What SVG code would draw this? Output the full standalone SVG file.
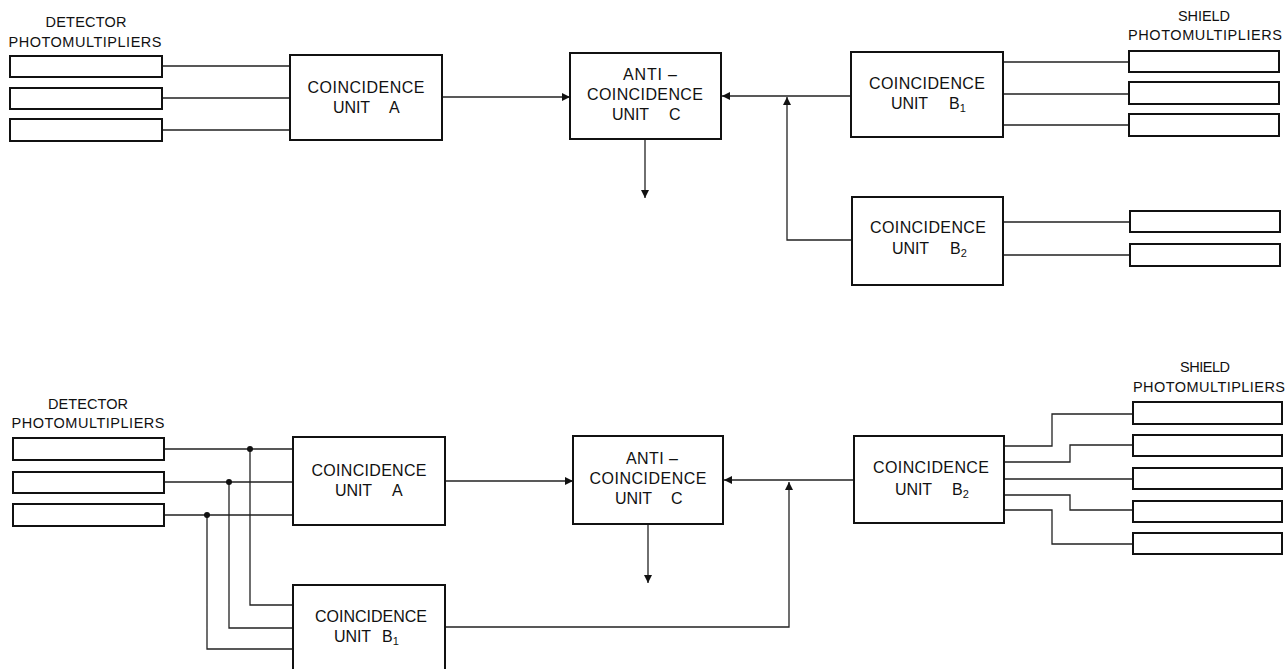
<svg xmlns="http://www.w3.org/2000/svg" width="1287" height="669" viewBox="0 0 1287 669">
<style>
.box{fill:#fff;stroke:#111;stroke-width:2}
.pm{fill:#fff;stroke:#111;stroke-width:2}
.ln{fill:none;stroke:#222;stroke-width:1.3}
.t{font-family:"Liberation Sans",Arial,sans-serif;font-size:16px;fill:#111}
.lb{font-family:"Liberation Sans",Arial,sans-serif;font-size:14.5px;fill:#111}
.sub{font-size:11px}
</style>
<defs>
<marker id="ah" viewBox="0 0 10 10" refX="10" refY="5" markerWidth="9" markerHeight="8" markerUnits="userSpaceOnUse" orient="auto">
<path d="M0,0 L10,5 L0,10 z" fill="#111"/>
</marker>
</defs>
<rect width="1287" height="669" fill="#fff"/>

<g id="connectors">
<!-- top -->
<path class="ln" d="M162,66H290M162,98H290M162,130H290"/>
<path class="ln" d="M442,97H570" marker-end="url(#ah)"/>
<path class="ln" d="M645,139V198" marker-end="url(#ah)"/>
<path class="ln" d="M851,96H722" marker-end="url(#ah)"/>
<path class="ln" d="M852,240H787V97" marker-end="url(#ah)"/>
<path class="ln" d="M1003,62H1129M1003,94H1129M1003,125H1129"/>
<path class="ln" d="M1003,222H1130M1003,255H1130"/>
<!-- bottom -->
<path class="ln" d="M164,449H293M164,482H293M164,515H293"/>
<path class="ln" d="M250,449V605H293M229,482V628H293M207,515V649H293"/>
<path class="ln" d="M445,481H573" marker-end="url(#ah)"/>
<path class="ln" d="M648,524V583" marker-end="url(#ah)"/>
<path class="ln" d="M854,480H724" marker-end="url(#ah)"/>
<path class="ln" d="M445,627H789V482" marker-end="url(#ah)"/>
<path class="ln" d="M1004,446H1052V414H1133M1004,462H1070V445H1133M1004,479H1133M1004,495H1070V510H1133M1004,510H1052V544H1133"/>
<circle cx="250" cy="449" r="3" fill="#111"/>
<circle cx="229" cy="482" r="3" fill="#111"/>
<circle cx="207" cy="515" r="3" fill="#111"/>
</g>

<!-- TOP DIAGRAM -->
<g id="top-detector-pm">
<text class="lb" x="86" y="27" text-anchor="middle" textLength="81">DETECTOR</text>
<text class="lb" x="85" y="47" text-anchor="middle" textLength="153">PHOTOMULTIPLIERS</text>
<rect class="pm" x="10" y="56" width="152" height="21"/>
<rect class="pm" x="10" y="88" width="152" height="21"/>
<rect class="pm" x="10" y="119" width="152" height="22"/>
</g>
<g id="top-unit-a">
<rect class="box" x="290" y="55" width="152" height="85"/>
<text class="t" x="366" y="93" text-anchor="middle" textLength="117">COINCIDENCE</text>
<text class="t" y="113"><tspan x="333" textLength="37">UNIT</tspan><tspan x="389">A</tspan></text>
</g>
<g id="top-unit-c">
<rect class="box" x="570" y="53" width="151" height="86"/>
<text class="t" x="650" y="80" text-anchor="middle" textLength="54">ANTI –</text>
<text class="t" x="645" y="100" text-anchor="middle" textLength="116">COINCIDENCE</text>
<text class="t" y="120"><tspan x="612" textLength="37">UNIT</tspan><tspan x="669">C</tspan></text>
</g>
<g id="top-unit-b1">
<rect class="box" x="851" y="52" width="152" height="85"/>
<text class="t" x="927" y="89" text-anchor="middle" textLength="116">COINCIDENCE</text>
<text class="t" y="109"><tspan x="891" textLength="37">UNIT</tspan><tspan x="949">B</tspan><tspan class="sub" dy="3">1</tspan></text>
</g>
<g id="top-unit-b2">
<rect class="box" x="852" y="197" width="151" height="88"/>
<text class="t" x="928" y="233" text-anchor="middle" textLength="116">COINCIDENCE</text>
<text class="t" y="254"><tspan x="892" textLength="37">UNIT</tspan><tspan x="950">B</tspan><tspan class="sub" dy="3">2</tspan></text>
</g>
<g id="top-shield-pm">
<text class="lb" x="1204" y="21" text-anchor="middle" textLength="52">SHIELD</text>
<text class="lb" x="1205" y="40" text-anchor="middle" textLength="154">PHOTOMULTIPLIERS</text>
<rect class="pm" x="1129" y="51" width="150" height="21"/>
<rect class="pm" x="1129" y="82" width="150" height="22"/>
<rect class="pm" x="1129" y="114" width="150" height="22"/>
<rect class="pm" x="1130" y="211" width="150" height="21"/>
<rect class="pm" x="1130" y="244" width="150" height="22"/>
</g>

<!-- BOTTOM DIAGRAM -->
<g id="bottom-detector-pm">
<text class="lb" x="88" y="409" text-anchor="middle" textLength="80">DETECTOR</text>
<text class="lb" x="88" y="428" text-anchor="middle" textLength="153">PHOTOMULTIPLIERS</text>
<rect class="pm" x="13" y="438" width="151" height="22"/>
<rect class="pm" x="13" y="472" width="151" height="21"/>
<rect class="pm" x="13" y="504" width="151" height="22"/>
</g>
<g id="bottom-unit-a">
<rect class="box" x="293" y="437" width="152" height="88"/>
<text class="t" x="369" y="476" text-anchor="middle" textLength="115">COINCIDENCE</text>
<text class="t" y="496"><tspan x="335" textLength="37">UNIT</tspan><tspan x="392">A</tspan></text>
</g>
<g id="bottom-unit-b1">
<rect class="box" x="293" y="585" width="152" height="100"/>
<text class="t" x="371" y="622" text-anchor="middle" textLength="112">COINCIDENCE</text>
<text class="t" y="642"><tspan x="334" textLength="37">UNIT</tspan><tspan x="382">B</tspan><tspan class="sub" dy="3">1</tspan></text>
</g>
<g id="bottom-unit-c">
<rect class="box" x="573" y="436" width="150" height="88"/>
<text class="t" x="652" y="464" text-anchor="middle" textLength="52">ANTI –</text>
<text class="t" x="648" y="484" text-anchor="middle" textLength="117">COINCIDENCE</text>
<text class="t" y="504"><tspan x="615" textLength="37">UNIT</tspan><tspan x="671">C</tspan></text>
</g>
<g id="bottom-unit-b2">
<rect class="box" x="854" y="436" width="150" height="87"/>
<text class="t" x="931" y="473" text-anchor="middle" textLength="116">COINCIDENCE</text>
<text class="t" y="495"><tspan x="895" textLength="37">UNIT</tspan><tspan x="952">B</tspan><tspan class="sub" dy="3">2</tspan></text>
</g>
<g id="bottom-shield-pm">
<text class="lb" x="1205" y="372" text-anchor="middle" textLength="50">SHIELD</text>
<text class="lb" x="1209" y="392" text-anchor="middle" textLength="152">PHOTOMULTIPLIERS</text>
<rect class="pm" x="1133" y="402" width="149" height="22"/>
<rect class="pm" x="1133" y="435" width="149" height="21"/>
<rect class="pm" x="1133" y="468" width="149" height="21"/>
<rect class="pm" x="1133" y="501" width="149" height="21"/>
<rect class="pm" x="1133" y="533" width="149" height="21"/>
</g>
</svg>
